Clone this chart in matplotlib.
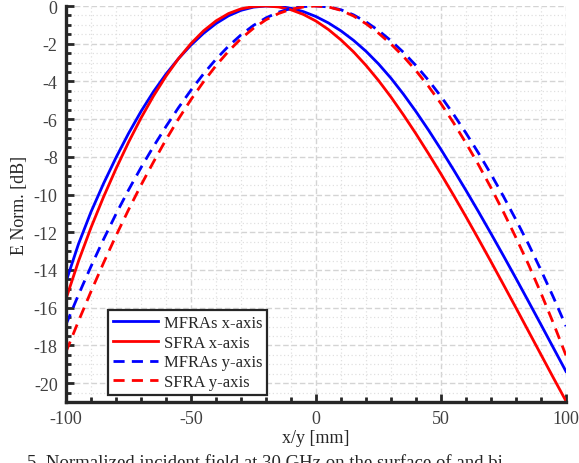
import matplotlib
matplotlib.use("Agg")
import matplotlib.pyplot as plt
import numpy as np
from matplotlib.ticker import MultipleLocator

x_mm = [-100, -95, -90, -85, -80, -75, -70, -65, -60, -55, -50, -45, -40, -35, -30, -25, -20,
        -15, -10, -5, 0, 5, 10, 15, 20, 25, 30, 35, 40, 45, 50, 55, 60, 65, 70, 75, 80, 85, 90, 95, 100]

mfras_x = [-14.62, -12.62, -10.92, -9.42, -8.04, -6.76, -5.59, -4.54, -3.61, -2.79, -2.07, -1.45, -0.93,
           -0.52, -0.23, -0.06, 0.0, -0.02, -0.12, -0.3, -0.56, -0.9, -1.32, -1.82, -2.4, -3.07, -3.83,
           -4.68, -5.6, -6.58, -7.61, -8.68, -9.78, -10.91, -12.07, -13.25, -14.45, -15.67, -16.9, -18.14, -19.38]

sfra_x = [-15.53, -13.53, -11.75, -10.13, -8.63, -7.23, -5.94, -4.77, -3.72, -2.79, -1.99, -1.32, -0.79,
          -0.4, -0.15, -0.03, 0.0, -0.05, -0.2, -0.45, -0.8, -1.25, -1.8, -2.43, -3.15, -3.95, -4.83,
          -5.78, -6.78, -7.83, -8.91, -10.03, -11.18, -12.36, -13.56, -14.78, -16.01, -17.25, -18.49, -19.73, -20.95]

mfras_y = [-16.89, -15.31, -13.81, -12.38, -11.03, -9.76, -8.57, -7.45, -6.39, -5.39, -4.46, -3.6, -2.82,
           -2.13, -1.53, -1.03, -0.63, -0.33, -0.13, -0.03, 0.0, -0.05, -0.2, -0.47, -0.84, -1.3, -1.84,
           -2.46, -3.16, -3.94, -4.8, -5.74, -6.74, -7.8, -8.92, -10.1, -11.34, -12.63, -14.01, -15.46, -16.98]

sfra_y = [-18.34, -16.71, -15.14, -13.63, -12.18, -10.81, -9.5, -8.27, -7.09, -5.99, -4.96, -4.02, -3.16,
          -2.4, -1.73, -1.18, -0.73, -0.4, -0.17, -0.05, 0.0, -0.05, -0.23, -0.53, -0.94, -1.44, -2.02,
          -2.68, -3.43, -4.26, -5.18, -6.19, -7.27, -8.42, -9.64, -10.93, -12.29, -13.71, -15.23, -16.84, -18.53]

labels = ["MFRAs x-axis", "SFRA x-axis", "MFRAs y-axis", "SFRA y-axis"]
xticks = [-100, -50, 0, 50, 100]
yticks = [0, -2, -4, -6, -8, -10, -12, -14, -16, -18, -20]
caption = "5. Normalized incident field at 30 GHz on the surface of and bi"

plt.rcParams['font.family'] = ['Liberation Serif', 'DejaVu Serif']

fig = plt.figure(figsize=(5.79, 4.64), dpi=100)
ax = fig.add_axes([66/579, 1-403/464, 500/579, 396/464])

lw = 2.0
dash = (0, (4.0, 2.6))
ax.plot(x_mm, mfras_x, color='#0000ff', lw=lw, label=labels[0], solid_joinstyle='round')
ax.plot(x_mm, sfra_x, color='#ff0000', lw=lw, label=labels[1], solid_joinstyle='round')
ax.plot(x_mm, mfras_y, color='#0000ff', lw=lw, ls=dash, label=labels[2])
ax.plot(x_mm, sfra_y, color='#ff0000', lw=lw, ls=dash, label=labels[3])

ax.set_xlim(-100, 100)
ax.set_ylim(-21, 0)
ax.set_xticks(xticks)
ax.set_yticks(yticks)
ax.set_yticklabels([str(v) for v in yticks])
ax.set_xticklabels([str(v) for v in xticks])
ax.xaxis.set_minor_locator(MultipleLocator(10))
ax.yaxis.set_minor_locator(MultipleLocator(0.5))

ax.grid(True, which='major', color='#d4d4d4', ls=(0, (4, 2)), lw=1.0)
ax.grid(True, which='minor', color='#e0e0e0', ls=(0, (1, 2)), lw=0.9)
ax.set_axisbelow(True)

for s in ['top', 'right']:
    ax.spines[s].set_visible(False)
for s in ['left', 'bottom']:
    ax.spines[s].set_linewidth(2.4)
    ax.spines[s].set_color('#262626')

ax.tick_params(which='major', direction='in', length=6, width=2.0, colors='#262626',
               labelsize=13, labelcolor='#404040', pad=6)
ax.tick_params(which='minor', direction='in', length=3.5, width=2.0, colors='#262626')

ax.set_xlabel('x/y [mm]', fontsize=13, color='#262626', labelpad=1)
ax.set_ylabel('E Norm. [dB]', fontsize=13, color='#262626', labelpad=4)

leg = ax.legend(loc='lower left', bbox_to_anchor=((108 - 66) / 500, (403 - 396) / 396),
                bbox_transform=ax.transAxes,
                fontsize=12, frameon=True, fancybox=False, handlelength=2.7,
                borderpad=0.3, labelspacing=0.22, handletextpad=0.35, borderaxespad=0.0)
leg.get_frame().set_edgecolor('#262626')
leg.get_frame().set_linewidth(1.6)
leg.get_frame().set_alpha(1.0)
for t in leg.get_texts():
    t.set_color('#262626')

fig.text(27/579, 1-455/464, caption,
         fontsize=13.5, color='#262626', ha='left', va='top')

fig.savefig('out.png', dpi=100)
